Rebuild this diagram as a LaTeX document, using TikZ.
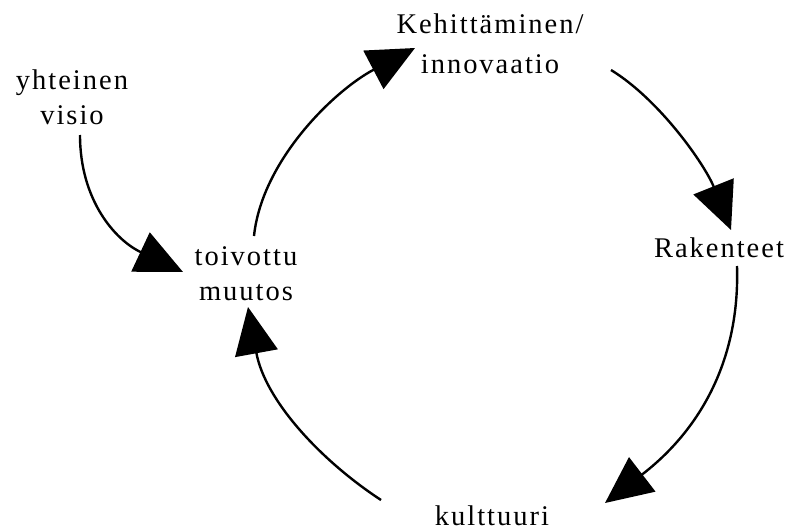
\documentclass[tikz,border=0pt]{standalone}
\usepackage{fontspec}
\setmainfont{Liberation Serif}[LetterSpace=7]
\usetikzlibrary{arrows.meta}
\begin{document}
\begin{tikzpicture}[x=1pt,y=-1pt,
  lbl/.style={inner sep=0pt, align=center, anchor=base,
    font=\fontsize{28.5}{35}\selectfont},
  flow/.style={line width=2.4pt, -{Triangle[length=47pt,width=43pt]}}]
\useasboundingbox (0,0) rectangle (788,530);

% labels (anchored at the baseline of their last line)
\node[lbl] (vision) at (72,124) {yhteinen\\visio};
\node[lbl] (change) at (246,300) {toivottu\\muutos};
\node[lbl, font=\fontsize{28.5}{40}\selectfont] (innov) at (490,73) {Kehittäminen/\\innovaatio};
\node[lbl] (struct) at (719,257) {Rakenteet};
\node[lbl] (culture) at (492,525) {kulttuuri};

% connector end points
\coordinate (s1) at (80,135);   \coordinate (t1) at (183,272);
\coordinate (s2) at (254,236);  \coordinate (t2) at (415,48);
\coordinate (s3) at (611,70);   \coordinate (t3) at (731,230);
\coordinate (s4) at (737,266);  \coordinate (t4) at (605,503);
\coordinate (s5) at (381,500);  \coordinate (t5) at (248,307);

% cycle of arrows
\draw[flow] (s1) .. controls (80,200) and (115,240) .. (t1);
\draw[flow] (s2) .. controls (262,160) and (335,90) .. (t2);
\draw[flow] (s3) .. controls (660,100) and (705,165) .. (t3);
\draw[flow] (s4) .. controls (740,360) and (700,430) .. (t4);
\draw[flow] (s5) .. controls (320,460) and (265,400) .. (t5);
\end{tikzpicture}
\end{document}
